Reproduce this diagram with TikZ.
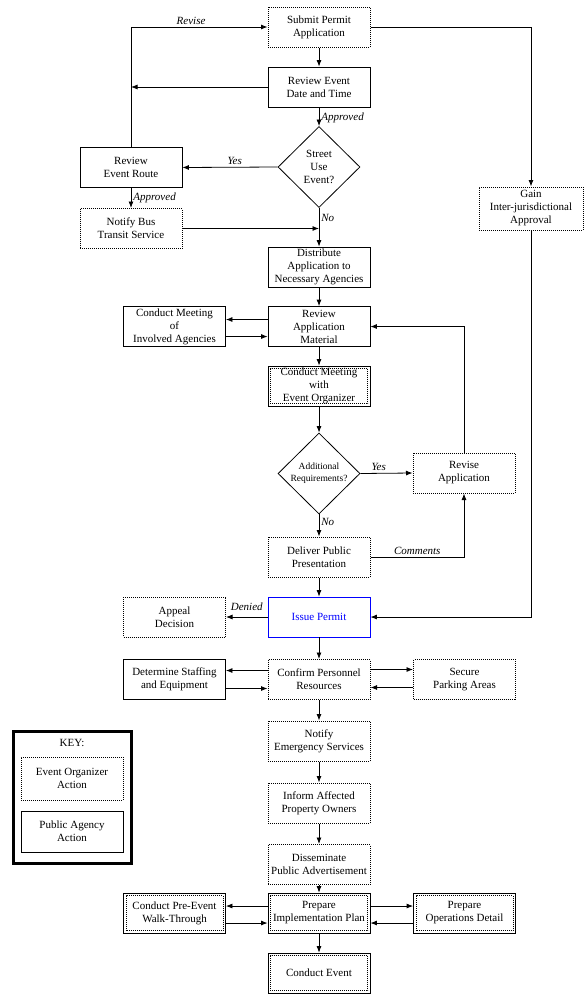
\documentclass[tikz,border=0pt]{standalone}
\usepackage{fontspec}
\setmainfont{Liberation Serif}
\usetikzlibrary{arrows.meta,shapes.geometric}
\tikzset{>={Latex[length=6.5pt,width=5pt]}}
\definecolor{permitColour}{RGB}{0,0,255}
\definecolor{lineColour}{RGB}{0,0,0}
\tikzset{
	boxBase/.style={minimum width=102pt, minimum height=40pt, inner sep=0pt, align=center, font=\fontsize{11}{13}\selectfont},
	agencyBox/.style={boxBase, draw=lineColour, line width=0.8pt},
	organizerBox/.style={boxBase, draw=lineColour, line width=1pt, dash pattern=on 1pt off 1pt},
	jointBox/.style={agencyBox, path picture={\draw[line width=1pt, dash pattern=on 1pt off 1pt] ([shift={(2.5pt,2.5pt)}]path picture bounding box.south west) rectangle ([shift={(-2.5pt,-2.5pt)}]path picture bounding box.north east);}},
	permitBox/.style={boxBase, draw=permitColour, line width=0.8pt, text=permitColour},
	decisionBox/.style={diamond, draw=lineColour, line width=0.8pt, minimum width=82pt, minimum height=81pt, inner sep=0pt, align=center, font=\fontsize{11}{13}\selectfont},
	branchLabel/.style={font=\itshape\fontsize{11}{12}\selectfont, inner sep=2pt},
	flow/.style={->, line width=0.8pt, draw=lineColour}
}
\begin{document}
\begin{tikzpicture}[x=1pt, y=-1pt]
		% the page area
		\useasboundingbox (0, 0) rectangle (588, 1004);

		% the application stage
		\node[organizerBox] (submit) at (319, 27) {Submit Permit\\Application};
		\node[agencyBox] (reviewDate) at (319, 87) {Review Event\\Date and Time};
		\node[decisionBox] (streetUse) at (319, 167) {Street\\Use\\Event?};
		\node[agencyBox] (reviewRoute) at (131, 167.5) {Review\\Event Route};
		\node[organizerBox] (notifyBus) at (131, 228.5) {Notify Bus\\Transit Service};
		\node[organizerBox, minimum width=104pt, minimum height=43pt] (gainApproval) at (531, 208.5) {Gain\\Inter-jurisdictional\\Approval};
		\node[agencyBox] (distribute) at (319, 267) {Distribute\\Application to\\Necessary Agencies};

		% the review stage
		\node[agencyBox] (reviewMaterial) at (319, 326.5) {Review\\Application\\Material};
		\node[agencyBox] (meetAgencies) at (174.5, 326.5) {Conduct Meeting\\of\\Involved Agencies};
		\node[jointBox] (meetOrganizer) at (319, 386) {Conduct Meeting\\with\\Event Organizer};
		\node[decisionBox, inner sep=-4pt, font=\fontsize{9.5}{12}\selectfont] (addRequirements) at (319, 473.5) {Additional\\Requirements?};
		\node[organizerBox] (reviseApp) at (464, 473) {Revise\\Application};
		\node[organizerBox] (presentation) at (319, 557) {Deliver Public\\Presentation};

		% the permit stage
		\node[permitBox] (issuePermit) at (319, 617) {Issue Permit};
		\node[organizerBox] (appeal) at (174.5, 617) {Appeal\\Decision};
		\node[organizerBox] (confirmStaff) at (319, 679.5) {Confirm Personnel\\Resources};
		\node[agencyBox] (staffing) at (174.5, 679.5) {Determine Staffing\\and Equipment};
		\node[organizerBox] (parking) at (464.5, 679.5) {Secure\\Parking Areas};
		\node[organizerBox] (emergency) at (319, 741) {Notify\\Emergency Services};
		\node[organizerBox] (owners) at (319, 803) {Inform Affected\\Property Owners};
		\node[organizerBox] (advertise) at (319, 864.5) {Disseminate\\Public Advertisement};

		% the implementation stage
		\node[jointBox] (implPlan) at (319, 913) {Prepare\\Implementation Plan};
		\node[jointBox] (walkThrough) at (174.5, 913) {Conduct Pre-Event\\Walk-Through};
		\node[jointBox] (opsDetail) at (464.5, 913) {Prepare\\Operations Detail};
		\node[jointBox] (conductEvent) at (319, 973) {Conduct Event};

		% the key
		\draw[line width=3pt] (13.5, 731.5) rectangle (131, 863.5);
		\node[font=\fontsize{11}{13}\selectfont] (keyTitle) at (72, 743) {KEY:};
		\node[organizerBox, minimum height=43pt] (keyOrganizer) at (72, 778.5) {Event Organizer\\Action};
		\node[agencyBox, minimum height=41pt] (keyAgency) at (72, 831.5) {Public Agency\\Action};

		% the connectors
		\draw[flow] (submit) -- (reviewDate);
		\draw[flow] (reviewDate) -- node[branchLabel, right, pos=0.55]{Approved} (streetUse);
		\draw[flow] (streetUse.west) -- node[branchLabel, above, pos=0.45]{Yes} (reviewRoute.east);
		\draw[flow] (reviewRoute.north) |- node[branchLabel, above, pos=0.72]{Revise} (submit.west);
		\draw[flow] (reviewDate.west) -- (reviewRoute.north |- reviewDate.west);
		\draw[flow] (reviewRoute) -- node[branchLabel, right, pos=0.5]{Approved} (notifyBus);
		\draw[flow] (notifyBus.east) -- (streetUse.south |- notifyBus.east);
		\draw[flow] (streetUse.south) -- node[branchLabel, right, pos=0.25]{No} (distribute.north);
		\draw[flow] (submit.east) -| (gainApproval.north);
		\draw[flow] (gainApproval.south) |- (issuePermit.east);
		\draw[flow] (distribute) -- (reviewMaterial);
		\draw[flow] ([yshift=7pt]reviewMaterial.west) -- ([yshift=7pt]meetAgencies.east);
		\draw[flow] ([yshift=-10pt]meetAgencies.east) -- ([yshift=-10pt]reviewMaterial.west);
		\draw[flow] (reviewMaterial) -- (meetOrganizer);
		\draw[flow] (meetOrganizer) -- (addRequirements);
		\draw[flow] (addRequirements.east) -- node[branchLabel, above, pos=0.35]{Yes} (reviseApp.west);
		\draw[flow] (reviseApp.north) |- (reviewMaterial.east);
		\draw[flow] (addRequirements.south) -- node[branchLabel, right, pos=0.35]{No} (presentation.north);
		\draw[flow] (presentation.east) -| node[branchLabel, above, pos=0.25]{Comments} (reviseApp.south);
		\draw[flow] (presentation) -- (issuePermit);
		\draw[flow] (issuePermit.west) -- node[branchLabel, above, pos=0.5, yshift=4pt]{Denied} (appeal.east);
		\draw[flow] (issuePermit) -- (confirmStaff);
		\draw[flow] ([yshift=9pt]confirmStaff.west) -- ([yshift=9pt]staffing.east);
		\draw[flow] ([yshift=-9pt]staffing.east) -- ([yshift=-9pt]confirmStaff.west);
		\draw[flow] ([yshift=10pt]confirmStaff.east) -- ([yshift=10pt]parking.west);
		\draw[flow] ([yshift=-8pt]parking.west) -- ([yshift=-8pt]confirmStaff.east);
		\draw[flow] (confirmStaff) -- (emergency);
		\draw[flow] (emergency) -- (owners);
		\draw[flow] (owners) -- (advertise);
		\draw[flow] (advertise) -- (implPlan);
		\draw[flow] ([yshift=7pt]implPlan.west) -- ([yshift=7pt]walkThrough.east);
		\draw[flow] ([yshift=-10pt]walkThrough.east) -- ([yshift=-10pt]implPlan.west);
		\draw[flow] ([yshift=7pt]implPlan.east) -- ([yshift=7pt]opsDetail.west);
		\draw[flow] ([yshift=-10pt]opsDetail.west) -- ([yshift=-10pt]implPlan.east);
		\draw[flow] (implPlan) -- (conductEvent);
	\end{tikzpicture}
\end{document}
